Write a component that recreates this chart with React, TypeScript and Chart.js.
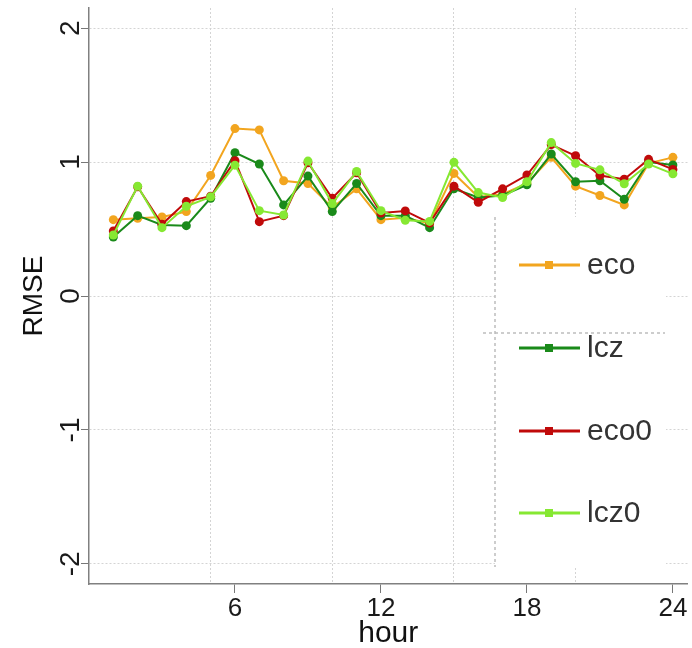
import React, { useEffect, useRef } from "react";
import { Chart, registerables } from "chart.js";

Chart.register(...registerables);

const hours = [1, 2, 3, 4, 5, 6, 7, 8, 9, 10, 11, 12, 13, 14, 15, 16, 17, 18, 19, 20, 21, 22, 23, 24];

const eco = [0.57, 0.58, 0.59, 0.63, 0.9, 1.25, 1.24, 0.86, 0.84, 0.66, 0.8, 0.57, 0.585, 0.54, 0.915, 0.74, 0.76, 0.84, 1.035, 0.82, 0.75, 0.68, 0.99, 1.035];
const lcz = [0.44, 0.6, 0.53, 0.525, 0.73, 1.07, 0.985, 0.68, 0.895, 0.63, 0.84, 0.6, 0.6, 0.51, 0.8, 0.735, 0.75, 0.83, 1.06, 0.853, 0.86, 0.722, 1.0, 0.978];
const eco0 = [0.485, 0.815, 0.535, 0.705, 0.745, 1.01, 0.555, 0.6, 0.995, 0.73, 0.92, 0.62, 0.635, 0.545, 0.82, 0.7, 0.8, 0.903, 1.13, 1.047, 0.9, 0.872, 1.02, 0.945];
const lcz0 = [0.455, 0.82, 0.51, 0.67, 0.74, 0.977, 0.637, 0.605, 1.007, 0.69, 0.93, 0.637, 0.565, 0.557, 0.998, 0.772, 0.735, 0.853, 1.145, 0.99, 0.942, 0.838, 0.985, 0.912];

const seriesNames = ["eco", "lcz", "eco0", "lcz0"];
const seriesColors = ["#F2A51F", "#1A8A1A", "#C00A0A", "#86E832"];
const seriesValues = [eco, lcz, eco0, lcz0];

const xTickLabels = [6, 12, 18, 24];
const xGridValues = [5, 10, 15, 20];
const yTickValues = [-2, -1, 0, 1, 2];

const FONT = "'Liberation Sans', Arial, sans-serif";

const boxLegend = {
  id: "boxLegend",
  afterDraw(chart: any) {
    const ctx = chart.ctx as CanvasRenderingContext2D;
    ctx.save();
    const left = 495, top = 217, right = 666, bottom = 567;
    ctx.fillStyle = "#ffffff";
    ctx.fillRect(left, top, right - left, bottom - top);
    ctx.strokeStyle = "#bdbdbd";
    ctx.lineWidth = 1.5;
    ctx.setLineDash([3, 3]);
    ctx.beginPath();
    ctx.moveTo(left, top);
    ctx.lineTo(left, bottom);
    ctx.moveTo(483, 333);
    ctx.lineTo(665, 333);
    ctx.stroke();
    ctx.setLineDash([]);
    const rows = [265, 348, 431, 513];
    chart.data.datasets.forEach((ds: any, i: number) => {
      const y = rows[i];
      ctx.strokeStyle = ds.borderColor;
      ctx.lineWidth = 3;
      ctx.beginPath();
      ctx.moveTo(519, y);
      ctx.lineTo(580, y);
      ctx.stroke();
      ctx.fillStyle = ds.borderColor;
      ctx.fillRect(545, y - 4, 8, 8);
      ctx.fillStyle = "#333333";
      ctx.font = `30px ${FONT}`;
      ctx.textAlign = "left";
      ctx.textBaseline = "middle";
      ctx.fillText(ds.label, 587, y + 1);
    });
    ctx.restore();
  },
};

export default function App() {
  const ref = useRef<HTMLCanvasElement>(null);

  useEffect(() => {
    if (!ref.current) return;
    const datasets = seriesNames.map((name, i) => ({
      label: name,
      data: hours.map((h, j) => ({ x: h, y: seriesValues[i][j] })),
      borderColor: seriesColors[i],
      backgroundColor: seriesColors[i],
      borderWidth: 2,
      pointRadius: 4.5,
      pointBorderWidth: 0,
      pointBackgroundColor: seriesColors[i],
      tension: 0,
      order: 3 - i,
    }));
    const chart = new Chart(ref.current, {
      type: "line",
      data: { datasets },
      plugins: [boxLegend],
      options: {
        responsive: false,
        animation: false,
        layout: { padding: { top: 8, right: 0, left: 0, bottom: 0 } },
        plugins: { legend: { display: false }, tooltip: { enabled: false } },
        scales: {
          x: {
            type: "linear",
            min: 0,
            max: 24.6,
            afterBuildTicks: (s: any) => {
              s.ticks = [...xGridValues, ...xTickLabels].sort((a, b) => a - b).map((v) => ({ value: v }));
            },
            afterFit: (s: any) => {
              s.height = 64;
              s.paddingLeft = 0;
              s.paddingRight = 0;
            },
            grid: {
              color: (c: any) => (xGridValues.includes(c.tick?.value) ? "#d4d4d4" : "rgba(0,0,0,0)"),
              tickColor: (c: any) => (xTickLabels.includes(c.tick?.value) ? "#777777" : "rgba(0,0,0,0)"),
              tickLength: 9,
              lineWidth: 1,
            },
            border: { display: true, color: "#808080", width: 1.5, dash: [2, 2] },
            ticks: {
              autoSkip: false,
              maxRotation: 0,
              minRotation: 0,
              padding: 0,
              color: "#1a1a1a",
              font: { family: FONT, size: 26 },
              callback: (v: any) => (xTickLabels.includes(Number(v)) ? String(v) : ""),
            },
            title: {
              display: true,
              text: "hour",
              color: "#111111",
              font: { family: FONT, size: 30 },
              padding: { top: 0, bottom: -4 },
            },
          },
          y: {
            type: "linear",
            min: -2.15,
            max: 2.15,
            afterBuildTicks: (s: any) => {
              s.ticks = yTickValues.map((v) => ({ value: v }));
            },
            afterFit: (s: any) => {
              s.width = 89;
              s.paddingTop = 0;
              s.paddingBottom = 0;
            },
            grid: { color: "#d4d4d4", tickColor: "#777777", tickLength: 8, lineWidth: 1 },
            border: { display: true, color: "#808080", width: 1.5, dash: [2, 2] },
            ticks: {
              minRotation: 90,
              maxRotation: 90,
              crossAlign: "center",
              padding: -3,
              color: "#1a1a1a",
              font: { family: FONT, size: 28 },
              callback: (v: any) => String(v),
            },
            title: {
              display: true,
              text: "RMSE",
              color: "#111111",
              font: { family: FONT, size: 28 },
              padding: { top: 17, bottom: 0 },
            },
          },
        },
      },
    } as any);
    return () => chart.destroy();
  }, []);

  return (
    <div style={{ position: "fixed", left: 0, top: 0, width: 692, height: 648, background: "#fff" }}>
      <canvas ref={ref} width={692} height={648} />
    </div>
  );
}
